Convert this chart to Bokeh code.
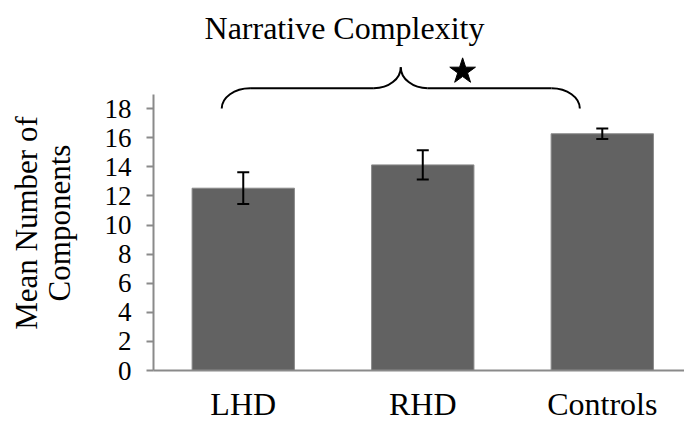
import math
from bokeh.plotting import figure
from bokeh.layouts import row
from bokeh.models import (Range1d, FixedTicker, ColumnDataSource, Whisker, TeeHead, Label)
from bokeh.core.properties import value
from bokeh.embed import file_html
from bokeh.resources import INLINE

categories = ["LHD", "RHD", "Controls"]
means = [12.53, 14.13, 16.27]
errors = [1.09, 1.0, 0.36]
y_ticks = [0, 2, 4, 6, 8, 10, 12, 14, 16, 18]
title_text = "Narrative Complexity"
y_label = "Mean Number of\nComponents"

FONT = "Liberation Serif"
LABEL_W = 80

xs = [i + 0.5 for i in range(len(categories))]
src = ColumnDataSource(dict(
    x=xs, top=means,
    upper=[m + e for m, e in zip(means, errors)],
    lower=[m - e for m, e in zip(means, errors)],
))

# narrow panel that carries the y-axis title
lab = figure(width=LABEL_W, height=424, output_backend="svg", toolbar_location=None,
             x_range=Range1d(0, LABEL_W), y_range=Range1d(0, 424),
             min_border=0, x_axis_type=None, y_axis_type=None)
lab.outline_line_color = None
lab.grid.visible = False
lab.text(x=[42.5], y=[169], text=[y_label], angle=math.pi / 2,
         text_align="center", text_baseline="middle", text_font=value(FONT),
         text_font_size="31px", text_line_height=0.93, text_color="black")

p = figure(width=684 - LABEL_W, height=424, output_backend="svg", toolbar_location=None,
           x_range=Range1d(0, 2.958), y_range=Range1d(0, 25.43),
           min_border_left=153 - LABEL_W, min_border_right=0, min_border_top=0,
           min_border_bottom=51)
p.outline_line_color = None
p.grid.visible = False

p.vbar(x="x", top="top", width=0.57, bottom=0, source=src,
       fill_color="#626262", line_color="#8a8a8a", line_width=1)

whisk = Whisker(base="x", upper="upper", lower="lower", source=src,
                line_color="black", line_width=2, level="overlay",
                upper_head=TeeHead(size=12, line_width=2, line_color="black"),
                lower_head=TeeHead(size=12, line_width=2, line_color="black"))
p.add_layout(whisk)

# y axis
ya = p.yaxis[0]
ya.ticker = FixedTicker(ticks=y_ticks)
ya.bounds = (0, 19)
ya.axis_line_color = "#8a8a8a"
ya.axis_line_width = 2
ya.major_tick_line_color = "#8a8a8a"
ya.major_tick_line_width = 2
ya.major_tick_out = 7
ya.major_tick_in = 0
ya.minor_tick_line_color = None
ya.major_label_standoff = 15
ya.major_label_text_font = FONT
ya.major_label_text_font_size = "27px"
ya.major_label_text_color = "black"

# x axis
xa = p.xaxis[0]
xa.ticker = FixedTicker(ticks=xs)
xa.major_label_overrides = {x: c for x, c in zip(xs, categories)}
xa.axis_line_color = "#8a8a8a"
xa.axis_line_width = 2
xa.major_tick_line_color = None
xa.major_tick_out = 0
xa.major_tick_in = 0
xa.minor_tick_line_color = None
xa.major_label_standoff = 15
xa.major_label_text_font = FONT
xa.major_label_text_font_size = "32px"
xa.major_label_text_color = "black"

# brace spanning the groups
xL, xR = 0.38, 2.375
xm = (xL + xR) / 2
y0, y1, y2 = 18.0, 19.4, 20.85
w1, w2 = 0.158, 0.15
k = 0.552
bx0 = [xL, xm - w2, xR, xm + w2]
by0 = [y0, y1, y0, y1]
bx1 = [xL + w1, xm, xR - w1, xm]
by1 = [y1, y2, y1, y2]
cx0 = [xL, xm - w2 + k * w2, xR, xm + w2 - k * w2]
cy0 = [y0 + k * (y1 - y0), y1, y0 + k * (y1 - y0), y1]
cx1 = [xL + w1 - k * w1, xm, xR - w1 + k * w1, xm]
cy1 = [y1, y2 - k * (y2 - y1), y1, y2 - k * (y2 - y1)]
p.bezier(x0=bx0, y0=by0, x1=bx1, y1=by1, cx0=cx0, cy0=cy0, cx1=cx1, cy1=cy1,
         line_color="black", line_width=2)
p.segment(x0=[xL + w1, xm + w2], y0=[y1, y1], x1=[xm - w2, xR - w1], y1=[y1, y1],
          line_color="black", line_width=2)

# significance star
p.scatter(x=[1.722], y=[20.56], marker="star", size=27, fill_color="black", line_color="black")

# title
p.add_layout(Label(x=1.064, y=23.52, text=title_text, text_align="center",
                   text_baseline="middle", text_font=FONT, text_font_size="32px",
                   text_color="black"))

layout = row(lab, p, spacing=0)
open("out.html", "w").write(file_html(layout, INLINE))
